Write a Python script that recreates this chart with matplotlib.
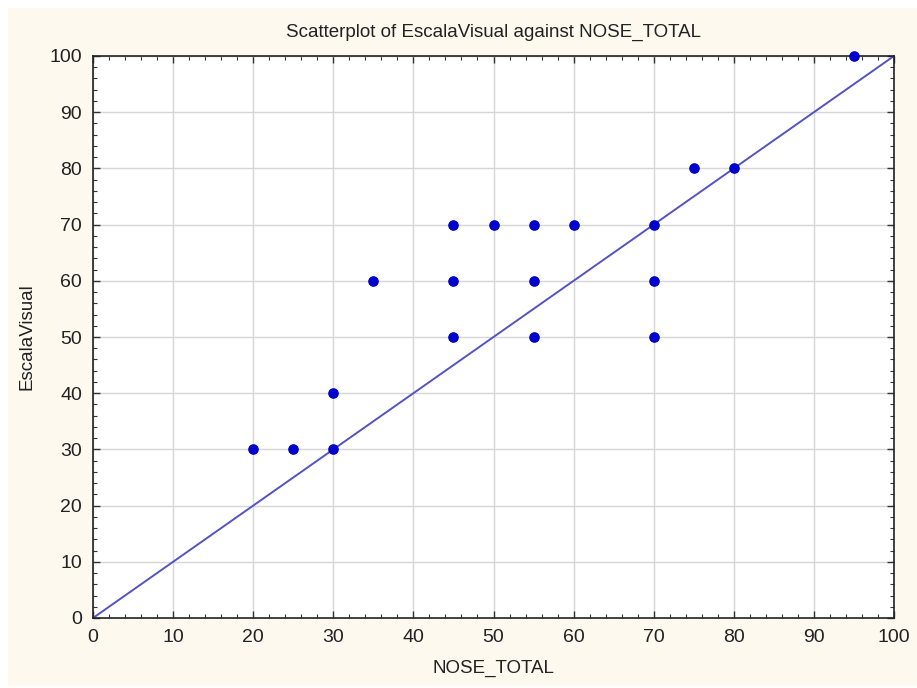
import matplotlib.pyplot as plt
from matplotlib.patches import Rectangle
from matplotlib.ticker import MultipleLocator

plt.rcParams["font.family"] = ["Liberation Sans", "DejaVu Sans"]

# data
nose_total = [20, 25, 30, 30, 35, 45, 45, 45, 50, 55, 55, 55, 60, 70, 70, 70, 75, 80, 95]
escala_visual = [30, 30, 30, 40, 60, 70, 60, 50, 70, 70, 60, 50, 70, 70, 60, 50, 80, 80, 100]
line_x = [0, 100]
line_y = [0, 100]

fig = plt.figure(figsize=(9.17, 6.88), dpi=100, facecolor="white")
fig.patches.append(Rectangle((8 / 917, 0.003), 1, 1 - 8 / 688 - 0.003,
                             transform=fig.transFigure, facecolor="#fdf9ef",
                             edgecolor="none", zorder=-10))
ax = fig.add_axes([93 / 917, 1 - 618 / 688, (894 - 93) / 917, (618 - 56) / 688])
ax.set_facecolor("white")

ax.plot(line_x, line_y, color="#5353c4", lw=1.4, zorder=2)
ax.scatter(nose_total, escala_visual, s=44, color="#0000cc", zorder=3, clip_on=False)

ax.set_xlim(0, 100)
ax.set_ylim(0, 100)
ax.xaxis.set_major_locator(MultipleLocator(10))
ax.yaxis.set_major_locator(MultipleLocator(10))
ax.xaxis.set_minor_locator(MultipleLocator(2))
ax.yaxis.set_minor_locator(MultipleLocator(2))
ax.tick_params(which="both", direction="in", top=True, right=True, colors="#333333",
               labelcolor="#222222", labelsize=14)
ax.tick_params(which="major", length=5, width=1)
ax.tick_params(which="minor", length=3, width=0.8)
ax.tick_params(axis="x", pad=8)
ax.tick_params(axis="y", pad=8)
ax.grid(True, which="major", color="#d6d6d6", lw=1)
ax.set_axisbelow(True)
for s in ax.spines.values():
    s.set_color("#222222")
    s.set_linewidth(1.2)

ax.set_title("Scatterplot of EscalaVisual against NOSE_TOTAL", fontsize=13.5,
             color="#222222", pad=14)
ax.set_xlabel("NOSE_TOTAL", fontsize=13.5, color="#222222", labelpad=10)
ax.set_ylabel("EscalaVisual", fontsize=13.5, color="#222222", labelpad=10)

fig.savefig("out.png", dpi=100)
